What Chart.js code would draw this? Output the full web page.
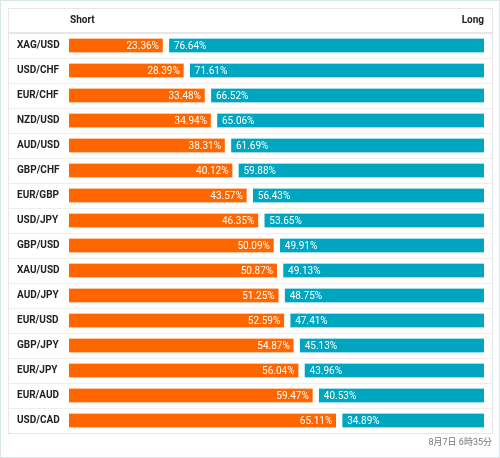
<!DOCTYPE html>
<html>
<head>
<meta charset="utf-8">
<script src="https://cdn.jsdelivr.net/npm/chart.js@4"></script>
<style>
html,body{margin:0;padding:0;background:#fff}
#wrap{width:500px;height:458px}
</style>
</head>
<body>
<div id="wrap"><canvas id="chart" width="500" height="458"></canvas></div>
<script>
// --- data ---
const pairs = ["XAG/USD","USD/CHF","EUR/CHF","NZD/USD","AUD/USD","GBP/CHF","EUR/GBP","USD/JPY",
               "GBP/USD","XAU/USD","AUD/JPY","EUR/USD","GBP/JPY","EUR/JPY","EUR/AUD","USD/CAD"];
const shortPct = [23.36,28.39,33.48,34.94,38.31,40.12,43.57,46.35,50.09,50.87,51.25,52.59,54.87,56.04,59.47,65.11];
const longPct  = [76.64,71.61,66.52,65.06,61.69,59.88,56.43,53.65,49.91,49.13,48.75,47.41,45.13,43.96,40.53,34.89];
const headers = ["Short","Long"];
const stamp = "8月7日 6時35分";

const ORANGE = "#ff6600", TEAL = "#00a6c0";
const GAP = 3.5;
const FONT = "Roboto, 'Noto Sans CJK JP', sans-serif";

function fmt(v){ return v.toFixed(2) + "%"; }

// frame, header row, row lines and footer
const framePlugin = {
    id: "frame",
    beforeDraw(chart){
        const ctx = chart.ctx, area = chart.chartArea;
        const W = chart.width, H = chart.height;
        ctx.save();
        ctx.fillStyle = "#fff";
        ctx.fillRect(0,0,W,H);
        ctx.strokeStyle = "#d9e6e8";
        ctx.lineWidth = 1;
        ctx.strokeRect(0.5,0.5,W-1,H-1);

        // inner box
        const bx = 8, by = 8, bw = 484, bh = area.bottom - by;
        ctx.strokeStyle = "#e6e6e6";
        ctx.strokeRect(bx+0.5, by+0.5, bw, bh);

        // header separator
        ctx.fillStyle = "#e6e6e6";
        ctx.fillRect(bx, area.top-1, bw, 2);

        // row lines
        const y = chart.scales.y;
        const step = (area.bottom - area.top) / pairs.length;
        ctx.strokeStyle = "#eeeeee";
        for(let i=1;i<pairs.length;i++){
            const ly = Math.round(y.getPixelForTick(i) - step/2) + 0.5;
            ctx.beginPath();
            ctx.moveTo(bx, ly);
            ctx.lineTo(bx+bw, ly);
            ctx.stroke();
        }

        // header texts
        ctx.fillStyle = "#222";
        ctx.font = "bold 10px " + FONT;
        ctx.textBaseline = "middle";
        ctx.textAlign = "left";
        ctx.fillText(headers[0], area.left+1, 20.5);
        ctx.textAlign = "right";
        ctx.fillText(headers[1], area.right, 20.5);

        // footer stamp
        ctx.fillStyle = "#777";
        ctx.font = "9px " + FONT;
        ctx.textAlign = "right";
        ctx.fillText(stamp, 492, 443);
        ctx.restore();
    },
    afterDatasetsDraw(chart){
        const ctx = chart.ctx;
        ctx.save();
        ctx.font = "10px " + FONT;
        ctx.fillStyle = "#fff";
        ctx.textBaseline = "middle";
        const mS = chart.getDatasetMeta(0), mL = chart.getDatasetMeta(1);
        mS.data.forEach((bar,i)=>{
            ctx.textAlign = "right";
            ctx.fillText(fmt(shortPct[i]), bar.x - GAP - 3.5, bar.y + 0.5);
        });
        mL.data.forEach((bar,i)=>{
            ctx.textAlign = "left";
            ctx.fillText(fmt(longPct[i]), bar.base + GAP + 4.5, bar.y + 0.5);
        });
        ctx.restore();
    }
};

new Chart(document.getElementById("chart").getContext("2d"), {
    type: "bar",
    data: {
        labels: pairs,
        datasets: [
            {label: headers[0], data: shortPct, backgroundColor: ORANGE, borderColor: "#fff",
             borderWidth: {top:0,bottom:0,left:0,right:GAP}, borderSkipped: false, barThickness: 14},
            {label: headers[1], data: longPct, backgroundColor: TEAL, borderColor: "#fff",
             borderWidth: {top:0,bottom:0,left:GAP,right:0}, borderSkipped: false, barThickness: 14}
        ]
    },
    options: {
        indexAxis: "y",
        responsive: false,
        devicePixelRatio: 1,
        animation: false,
        layout: {padding: {left:17, right:16, top:33, bottom:25}},
        plugins: {legend: {display:false}, tooltip: {enabled:false}},
        scales: {
            x: {display:false, stacked:true, min:0, max:100},
            y: {
                stacked: true,
                grid: {display:false},
                border: {display:false},
                ticks: {color:"#222", crossAlign:"far", padding:0, font:{family:FONT, size:10, weight:"bold"}},
                afterFit(s){ s.width = 52; }
            }
        }
    },
    plugins: [framePlugin]
});
</script>
</body>
</html>
